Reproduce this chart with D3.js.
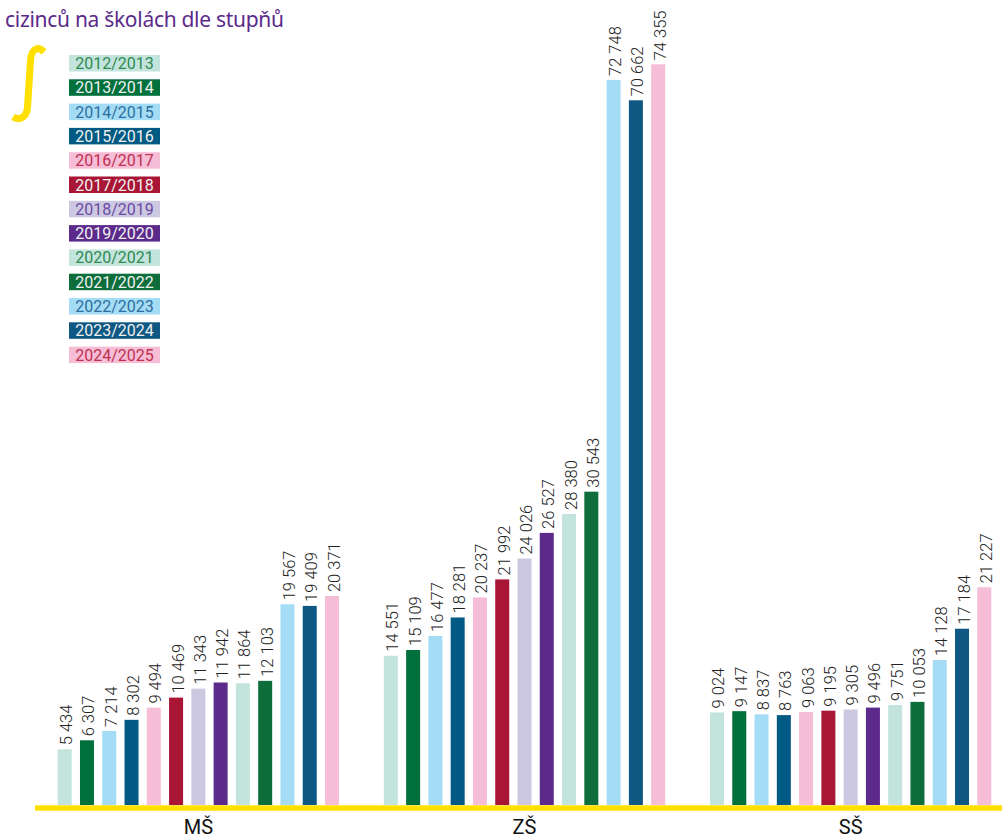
<!DOCTYPE html>
<html><head><meta charset="utf-8">
<script src="https://cdn.jsdelivr.net/npm/d3@7"></script>
<style>
body{margin:0;background:#fff;}
svg{display:block;}
</style></head>
<body>
<svg id="chart" width="1002" height="840"></svg>
<script>
const title = "cizinců na školách dle stupňů";
const years = ["2012/2013","2013/2014","2014/2015","2015/2016","2016/2017","2017/2018","2018/2019","2019/2020","2020/2021","2021/2022","2022/2023","2023/2024","2024/2025"];
const groups = ["MŠ","ZŠ","SŠ"];
const valuesMS = [5434,6307,7214,8302,9494,10469,11343,11942,11864,12103,19567,19409,20371];
const valuesZS = [14551,15109,16477,18281,20237,21992,24026,26527,28380,30543,72748,70662,74355];
const valuesSS = [9024,9147,8837,8763,9063,9195,9305,9496,9751,10053,14128,17184,21227];
const barColors = ["#c3e4dc","#00703c","#a5dcf5","#005a84","#f5bdd6","#a81535","#cdc8e2","#5b2a8b","#c3e4dc","#0d6e3b","#a5dcf5","#0f5883","#f5bdd6"];
const legendText = ["#2f8a52","#f0f0f0","#2c6fa0","#f0f0f0","#c0304f","#f0f0f0","#6b4aa3","#f0f0f0","#2f8a52","#f0f0f0","#2c6fa0","#f0f0f0","#c0304f"];
// the original graphic compresses the value axis above ~31 000
const yBreaks = [0, 31000, 75000];

const seriesByGroup = {"MŠ": valuesMS, "ZŠ": valuesZS, "SŠ": valuesSS};
const svg = d3.select("#chart");
const fmt = v => d3.format(",")(v).replace(/,/g, "\u00a0");

const x0 = d3.scaleBand().domain(groups).range([57.7, 991.3]).paddingInner(0.1375).paddingOuter(0);
const x1 = d3.scaleBand().domain(years).range([0, x0.bandwidth()]).paddingInner(0.3715).paddingOuter(0);
const y = d3.scaleLinear().domain(yBreaks).range([805, 487, 58]);
const color = d3.scaleOrdinal().domain(years).range(barColors);

// title
svg.append("text").attr("x", 5).attr("y", 27)
  .attr("font-family", "'Noto Sans', sans-serif").attr("font-size", 21).attr("font-weight", 400)
  .attr("letter-spacing", -0.3)
  .attr("fill", "#5b2a8b").text(title);

// integral sign
svg.append("path")
  .attr("d", "M44,52 C37,45 31,50 30.5,61 L27.5,107 C27,117 20,121 13,117")
  .attr("fill", "none").attr("stroke", "#ffe000").attr("stroke-width", 7).attr("stroke-linecap", "butt");

// legend
const leg = svg.append("g").selectAll("g").data(years).join("g")
  .attr("transform", (d, i) => `translate(69,${55 + i * 24.3})`);
leg.append("rect").attr("width", 91).attr("height", 16.5).attr("fill", d => color(d));
leg.append("text").attr("x", 45.5).attr("y", 14).attr("text-anchor", "middle")
  .attr("font-family", "Roboto, sans-serif").attr("font-weight", 400).attr("font-size", 16)
  .attr("fill", (d, i) => legendText[i]).text(d => d);

// bars
const g = svg.append("g").selectAll("g").data(groups).join("g")
  .attr("transform", d => `translate(${x0(d)},0)`);
const barData = d => years.map((yr, i) => ({year: yr, value: seriesByGroup[d][i]}));
g.selectAll("rect").data(barData).join("rect")
  .attr("x", d => x1(d.year)).attr("width", x1.bandwidth())
  .attr("y", d => y(d.value)).attr("height", d => y(0) - y(d.value))
  .attr("fill", d => color(d.year));
g.selectAll("text").data(barData).join("text")
  .attr("transform", d => `translate(${x1(d.year) + x1.bandwidth() / 2 + 7.5},${y(d.value) - 4}) rotate(-90)`)
  .attr("font-family", "Roboto, sans-serif").attr("font-weight", 300).attr("font-size", 16.5)
  .attr("fill", "#222").text(d => fmt(d.value));

// baseline
svg.append("line").attr("x1", 35).attr("x2", 1002).attr("y1", 808).attr("y2", 808)
  .attr("stroke", "#ffe000").attr("stroke-width", 5.5);

// axis labels
const axis = svg.append("g").attr("transform", "translate(0,811)")
  .call(d3.axisBottom(x0).tickSize(0).tickPadding(9));
axis.select(".domain").remove();
axis.selectAll("text").attr("font-family", "Roboto, sans-serif").attr("font-size", 20).attr("fill", "#111");
</script>
</body></html>
